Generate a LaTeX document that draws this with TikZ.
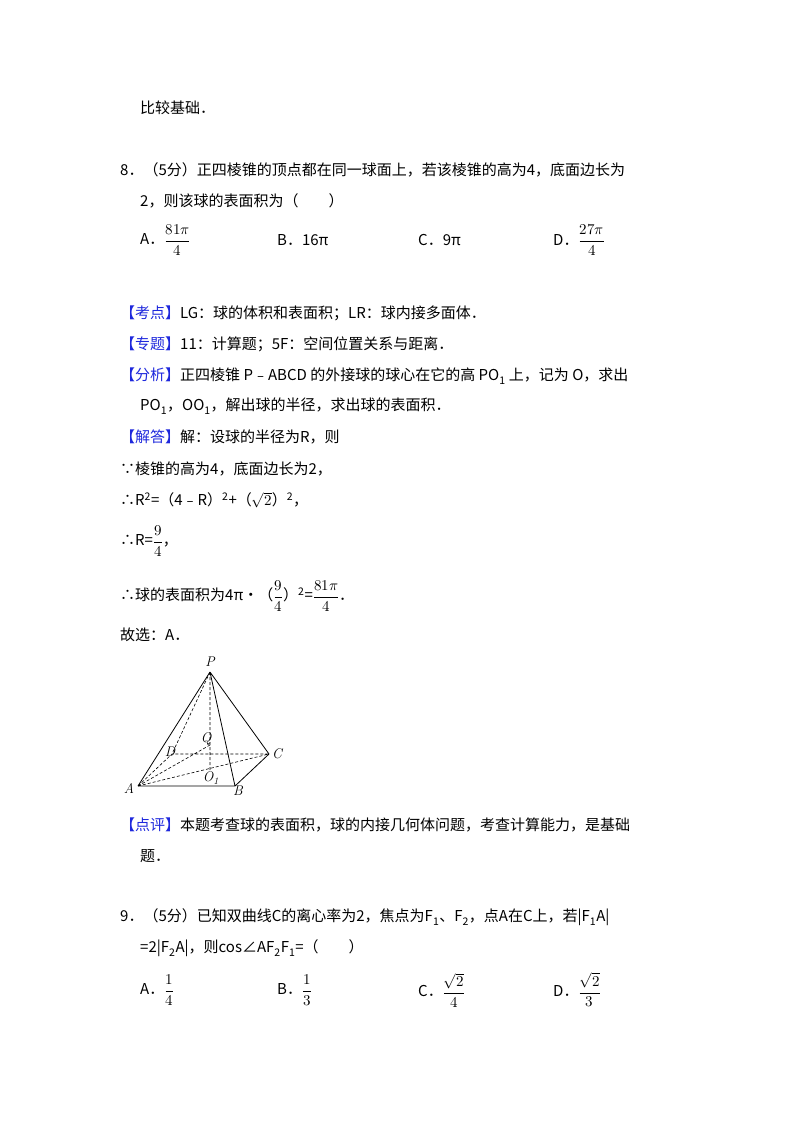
\documentclass[tikz,border=0pt]{standalone}
\usepackage{fontspec}
\setmainfont{Noto Sans CJK SC}
\newfontfamily\lmr{Latin Modern Roman}
\usepackage{amsmath}
\usepackage{unicode-math}
\setmathfont{Latin Modern Math}
\definecolor{kb}{RGB}{30,40,220}
\begin{document}
\begin{tikzpicture}[x=1pt,y=-1pt,
  t/.style={anchor=west,inner sep=0pt,font=\fontsize{15}{15}\selectfont},
  lab/.style={inner sep=0pt,font=\fontsize{14}{14}\selectfont\lmr\itshape},
  dsh/.style={dashed,dash pattern=on 3pt off 2pt,line width=0.6pt},
  sld/.style={line width=0.8pt}]
\useasboundingbox (0,0) rectangle (800,1133);
\newcommand{\bk}[1]{\textcolor{kb}{【#1】}}
\node[t] (l1) at (140,108) {比较基础．};
\node[t] (l2) at (120,170) {8．（5分）正四棱锥的顶点都在同一球面上，若该棱锥的高为4，底面边长为};
\node[t] (l3) at (140,201) {2，则该球的表面积为（　　）};
\node[t] (o1) at (140,240) {A．$\dfrac{81\pi}{4}$};
\node[t] (o2) at (277,240) {B．16π};
\node[t] (o3) at (418,240) {C．9π};
\node[t] (o4) at (553,240) {D．$\dfrac{27\pi}{4}$};
\node[t] (l4) at (120,313) {\bk{考点}LG：球的体积和表面积；LR：球内接多面体．};
\node[t] (l5) at (120,344) {\bk{专题}11：计算题；5F：空间位置关系与距离．};
\node[t] (l6) at (120,376) {\bk{分析}正四棱锥 P﹣ABCD 的外接球的球心在它的高 PO\textsubscript{1} 上，记为 O，求出};
\node[t] (l7) at (140,406) {PO\textsubscript{1}，OO\textsubscript{1}，解出球的半径，求出球的表面积．};
\node[t] (l8) at (120,437) {\bk{解答}解：设球的半径为R，则};
\node[t] (l9) at (120,469) {∵棱锥的高为4，底面边长为2，};
\node[t] (l10) at (120,500) {∴R\textsuperscript{2}=（4﹣R）\textsuperscript{2}+（$\sqrt{2}$）\textsuperscript{2}，};
\node[t] (l11) at (120,541) {∴R=$\dfrac{9}{4}$，};
\node[t] (l12) at (120,596) {∴球的表面积为4π•（$\dfrac{9}{4}$）\textsuperscript{2}=$\dfrac{81\pi}{4}$．};
\node[t] (l13) at (120,635) {故选：A．};
% pyramid
\coordinate (P) at (210,672);
\coordinate (A) at (138,786);
\coordinate (B) at (235,786);
\coordinate (C) at (269,754);
\coordinate (D) at (172,754);
\coordinate (Q) at (210,745);
\coordinate (O) at (210,770);
\draw[sld] (P)--(A) (P)--(B) (P)--(C) (A)--(B)--(C);
\draw[dsh] (P)--(D) (A)--(D)--(C) (A)--(C) (P)--(O) (A)--(Q);
\node[lab] (nP) at (210,662) {P};
\node[lab] (nA) at (129,788) {A};
\node[lab] (nB) at (238,791) {B};
\node[lab] (nC) at (277,754) {C};
\node[lab] (nD) at (170,752) {D};
\node[lab] (nQ) at (206,739) {Q};
\node[lab] (nO) at (211,778) {O\textsubscript{1}};
\node[t] (l14) at (120,825) {\bk{点评}本题考查球的表面积，球的内接几何体问题，考查计算能力，是基础};
\node[t] (l15) at (140,856) {题．};
\node[t] (l16) at (120,917) {9．（5分）已知双曲线C的离心率为2，焦点为F\textsubscript{1}、F\textsubscript{2}，点A在C上，若|F\textsubscript{1}A|};
\node[t] (l17) at (140,948) {=2|F\textsubscript{2}A|，则cos∠AF\textsubscript{2}F\textsubscript{1}=（　　）};
\node[t] (p1) at (140,990) {A．$\dfrac{1}{4}$};
\node[t] (p2) at (277,990) {B．$\dfrac{1}{3}$};
\node[t] (p3) at (418,990) {C．$\dfrac{\sqrt{2}}{4}$};
\node[t] (p4) at (553,990) {D．$\dfrac{\sqrt{2}}{3}$};
\end{tikzpicture}
\end{document}
